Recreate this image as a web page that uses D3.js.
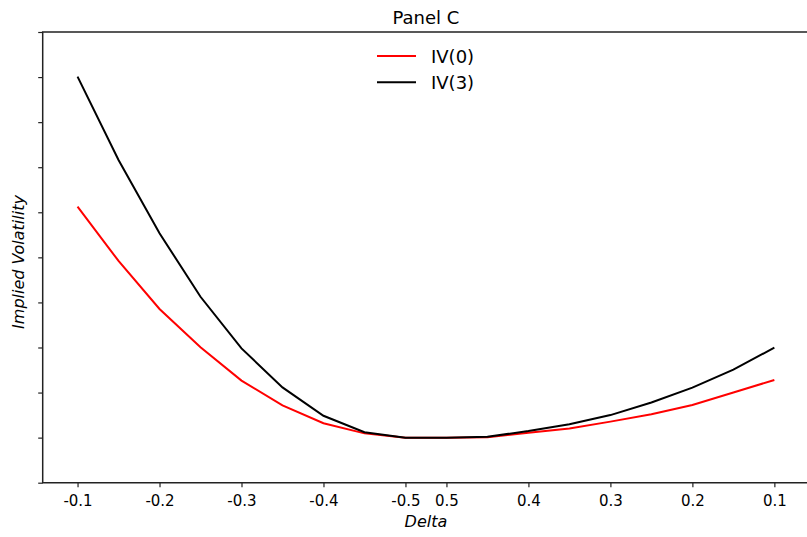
<!DOCTYPE html>
<html>
<head>
<meta charset="utf-8">
<script src="https://cdn.jsdelivr.net/npm/d3@7"></script>
<style>
  html, body { margin: 0; padding: 0; background: #fff; }
  svg { display: block; font-family: "DejaVu Sans", sans-serif; }
</style>
</head>
<body>
<svg id="chart" width="807" height="537"></svg>
<script>
// ---- data ----
const deltas = [-0.10, -0.15, -0.20, -0.25, -0.30, -0.35, -0.40, -0.45, -0.50,
                 0.50,  0.45,  0.40,  0.35,  0.30,  0.25,  0.20,  0.15,  0.10];
const tickDeltas = [-0.1, -0.2, -0.3, -0.4, -0.5, 0.5, 0.4, 0.3, 0.2, 0.1];
const tickLabels = ["-0.1", "-0.2", "-0.3", "-0.4", "-0.5", "0.5", "0.4", "0.3", "0.2", "0.1"];
const iv0 = [0.2225, 0.1984, 0.1771, 0.1601, 0.1453, 0.1343, 0.1264, 0.1219, 0.1200,
             0.1200, 0.1202, 0.1222, 0.1241, 0.1271, 0.1304, 0.1345, 0.1400, 0.1456];
const iv3 = [0.2802, 0.2432, 0.2107, 0.1825, 0.1596, 0.1423, 0.1297, 0.1224, 0.1200,
             0.1200, 0.1204, 0.1229, 0.1259, 0.1300, 0.1356, 0.1422, 0.1502, 0.1599];
const yTicks = [0.10, 0.12, 0.14, 0.16, 0.18, 0.20, 0.22, 0.24, 0.26, 0.28, 0.30];
const seriesNames = ["IV(0)", "IV(3)"];
const seriesColors = ["#ff0000", "#000000"];

// ---- layout ----
const mLeft = 42.7, mRight = 809.2, mTop = 32, mBottom = 482.7;
const svg = d3.select("#chart");

const idx = d3.range(deltas.length);
const x = d3.scalePoint().domain(idx).range([mLeft, mRight]).padding(0.85);
const y = d3.scaleLinear().domain([0.10, 0.30]).range([mBottom, mTop]);

const tickIdx = tickDeltas.map(t => deltas.findIndex(d => Math.abs(d - t) < 1e-9));

// x axis
const xAxis = d3.axisBottom(x)
  .tickValues(tickIdx)
  .tickFormat((d, i) => tickLabels[i])
  .tickSize(4.5).tickSizeOuter(0);
const gx = svg.append("g").attr("transform", `translate(0,${mBottom})`).call(xAxis);
gx.select(".domain").remove();
gx.selectAll(".tick line").attr("stroke", "#222").attr("stroke-width", 1.2);
gx.selectAll(".tick text").attr("y", 23).attr("dy", 0)
  .attr("font-size", 15).attr("fill", "#000")
  .attr("font-family", "DejaVu Sans, sans-serif");

// y axis (no labels)
const yAxis = d3.axisLeft(y).tickValues(yTicks).tickFormat("").tickSize(4.5).tickSizeOuter(0);
const gy = svg.append("g").attr("transform", `translate(${mLeft},0)`).call(yAxis);
gy.select(".domain").remove();
gy.selectAll(".tick line").attr("stroke", "#222").attr("stroke-width", 1.2);

// spines
svg.append("path")
  .attr("d", `M${mRight},${mTop}H${mLeft}V${mBottom}H${mRight}`)
  .attr("fill", "none").attr("stroke", "#222").attr("stroke-width", 1.5);

// lines
const line = d3.line().x((d, i) => x(i)).y(d => y(d));
[iv0, iv3].forEach((s, k) => {
  svg.append("path").datum(s)
    .attr("d", line)
    .attr("fill", "none")
    .attr("stroke", seriesColors[k])
    .attr("stroke-width", 2)
    .attr("stroke-linejoin", "miter");
});

// title
svg.append("text").attr("x", (mLeft + mRight) / 2).attr("y", 24)
  .attr("text-anchor", "middle").attr("font-size", 18).attr("fill", "#000")
  .text("Panel C");

// axis labels
svg.append("text").attr("x", (mLeft + mRight) / 2).attr("y", 526.5)
  .attr("text-anchor", "middle").attr("font-size", 16).attr("font-style", "italic")
  .attr("fill", "#000").text("Delta");
svg.append("text").attr("transform", "translate(24,262) rotate(-90)")
  .attr("text-anchor", "middle").attr("font-size", 16).attr("font-style", "italic")
  .attr("fill", "#000").text("Implied Volatility");

// legend
const lg = svg.append("g");
seriesNames.forEach((name, k) => {
  const yy = 56 + k * 26.3;
  lg.append("line").attr("x1", 377).attr("x2", 416).attr("y1", yy).attr("y2", yy)
    .attr("stroke", seriesColors[k]).attr("stroke-width", 2);
  lg.append("text").attr("x", 431).attr("y", yy + 6.5)
    .attr("font-size", 18).attr("fill", "#000").text(name);
});
</script>
</body>
</html>
